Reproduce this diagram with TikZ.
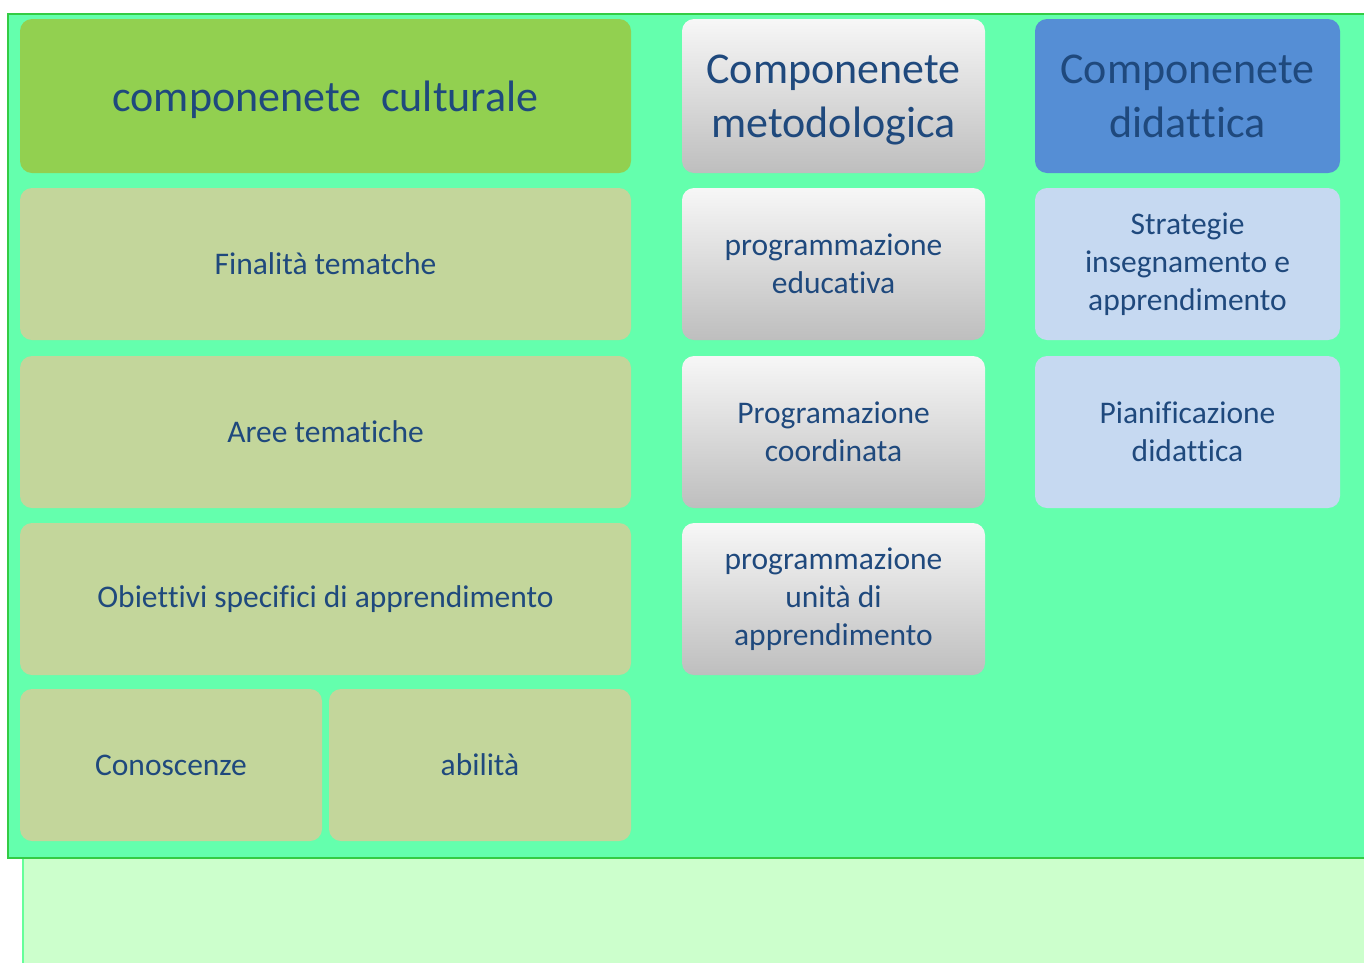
\documentclass[tikz,border=0pt]{standalone}
\usepackage{fontspec}
\setmainfont[RawFeature={-liga;-clig;-dlig}]{Carlito}
\newcommand{\nl}{\kern0pt }
\definecolor{outerfill}{HTML}{64FFAD}
\definecolor{outerline}{HTML}{33CC44}
\definecolor{lowfill}{HTML}{CCFFCC}
\definecolor{lowline}{HTML}{66FF99}
\definecolor{hdrgreen}{HTML}{92D050}
\definecolor{olive}{HTML}{C3D69B}
\definecolor{hdrblue}{HTML}{558ED5}
\definecolor{lightblue}{HTML}{C6D9F1}
\definecolor{txt}{HTML}{1F497D}
\definecolor{grtop}{HTML}{F7F7F7}
\definecolor{grbot}{HTML}{BEBEBE}
\tikzset{
  box/.style={rectangle, rounded corners=12pt, inner sep=0pt, align=center, text=txt,
    minimum height=152pt, font=\fontsize{31.5}{38}\selectfont},
  hdr/.style={box, font=\fontsize{44}{54}\selectfont, text depth=0pt},
  colone/.style={box, fill=olive, minimum width=611pt},
  half/.style={box, fill=olive, minimum width=302pt},
  grey/.style={box, top color=grtop, bottom color=grbot, minimum width=303pt},
  blu/.style={box, fill=lightblue, minimum width=305pt}
}
\begin{document}
\begin{tikzpicture}[x=1pt,y=-1pt]
\useasboundingbox (0,0) rectangle (1364,962);
\fill[white] (0,0) rectangle (1364,962);
% lower pale area
\fill[lowfill] (22,858) rectangle (1370,970);
\draw[lowline, line width=1.5pt] (23,858) -- (23,970);
% outer panel
\draw[outerline, fill=outerfill, line width=2pt] (8,14) rectangle (1372,858);
% column 1
\node[hdr, fill=hdrgreen, minimum width=611pt, minimum height=154pt] (cult) at (325.5,96) {componenete\ \ culturale};
\node[colone] (fin) at (325.5,264) {Finalità tematche};
\node[colone] (aree) at (325.5,432) {Aree tematiche};
\node[colone] (obi) at (325.5,599) {Obiet\nl tivi specif\nl ici di apprendimento};
\node[half] (con) at (171,765) {Conoscenze};
\node[half] (abi) at (480,765) {abilità};
% column 2
\node[hdr, top color=grtop, bottom color=grbot, minimum width=303pt, minimum height=154pt] (met) at (833.5,96) {Componenete\\metodologica};
\node[grey] (edu) at (833.5,264) {programmazione\\educativa};
\node[grey] (coo) at (833.5,432) {Programazione\\coordinata};
\node[grey] (uni) at (833.5,599) {programmazione\\unità di\\apprendimento};
% column 3
\node[hdr, fill=hdrblue, minimum width=305pt, minimum height=154pt] (did) at (1187.5,96) {Componenete\\didat\nl tica};
\node[blu] (str) at (1187.5,264) {Strategie\\insegnamento e\\apprendimento};
\node[blu] (pia) at (1187.5,432) {Pianif\nl icazione\\didat\nl tica};
\end{tikzpicture}
\end{document}
